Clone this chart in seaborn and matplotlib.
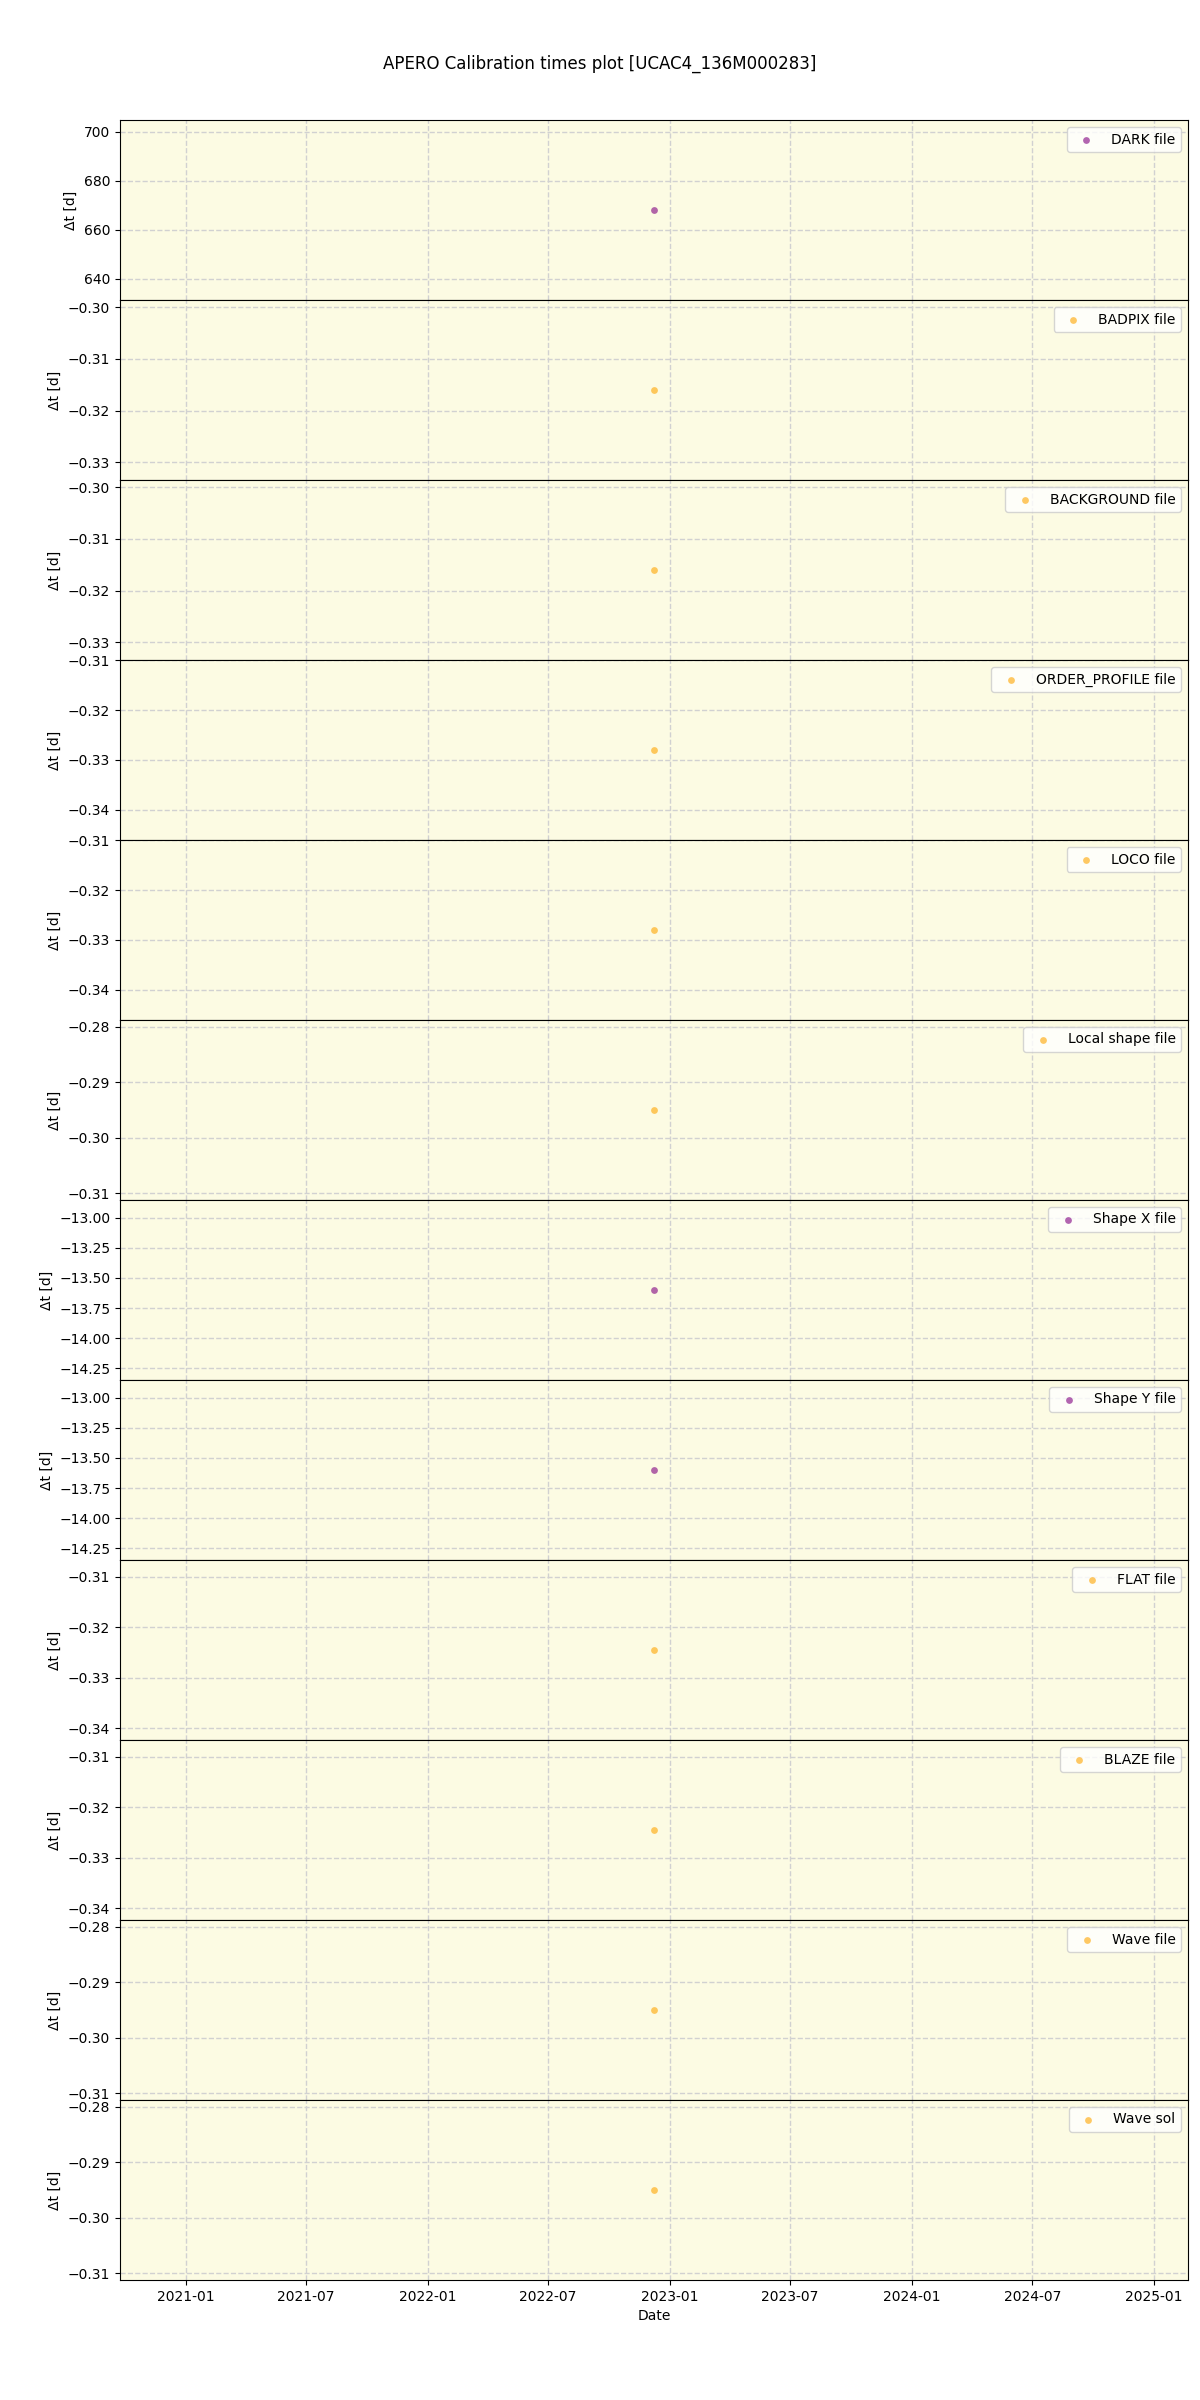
import numpy as np
import pandas as pd
import matplotlib
matplotlib.use("Agg")
import matplotlib.pyplot as plt
import matplotlib.dates as mdates
import seaborn as sns

# ---- data ----
labels = ["DARK file", "BADPIX file", "BACKGROUND file", "ORDER_PROFILE file",
          "LOCO file", "Local shape file", "Shape X file", "Shape Y file",
          "FLAT file", "BLAZE file", "Wave file", "Wave sol"]
obs_dates = ["2022-12-08"] * 12
dt_values = [668.0, -0.316, -0.316, -0.328, -0.328, -0.295,
             -13.6, -13.6, -0.3245, -0.3245, -0.295, -0.295]
point_colors = ["purple", "orange", "orange", "orange", "orange", "orange",
                "purple", "purple", "orange", "orange", "orange", "orange"]
x_range = ["2020-09-23", "2025-02-21"]
title = "APERO Calibration times plot [UCAC4_136M000283]"

plt.rcParams["font.family"] = ["DejaVu Sans"]

fig, axes = plt.subplots(len(labels), 1, figsize=(12, 24), dpi=100, sharex=True)
fig.subplots_adjust(left=0.1, right=0.99, top=0.95, bottom=0.05, hspace=0)

for ax, lab, d, v, c in zip(axes, labels, obs_dates, dt_values, point_colors):
    df = pd.DataFrame({"Date": pd.to_datetime([d]), "dt": [v]})
    sns.scatterplot(data=df, x="Date", y="dt", ax=ax, color=c, alpha=0.6,
                    s=24, linewidth=0, label=lab)
    ax.set_facecolor("#fcfbe3")
    ax.grid(True, linestyle="--", color="0.82", linewidth=1)
    ax.set_axisbelow(True)
    ax.set_ylabel("Δt [d]")
    ax.set_xlabel("")
    ax.legend(loc="upper right")

axes[-1].set_xlim(pd.to_datetime(x_range[0]), pd.to_datetime(x_range[1]))
axes[-1].xaxis.set_major_locator(mdates.MonthLocator(bymonth=[1, 7]))
axes[-1].xaxis.set_major_formatter(mdates.DateFormatter("%Y-%m"))
axes[-1].set_xlabel("Date")
fig.suptitle(title, y=0.977, fontsize=12)

fig.savefig("out.png", dpi=100)
